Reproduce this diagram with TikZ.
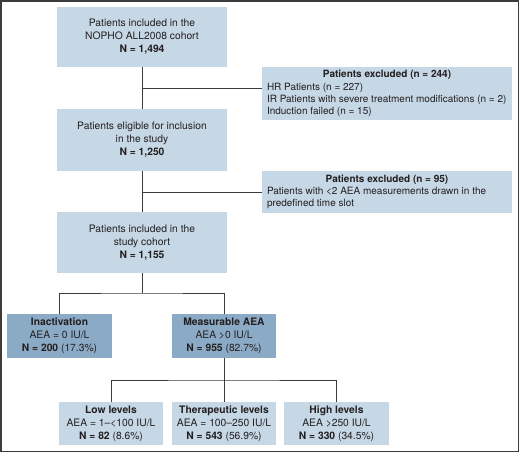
\documentclass[tikz,border=0pt]{standalone}
\usepackage{fontspec}
\setmainfont{TeX Gyre Heros}
\definecolor{lightbox}{RGB}{198,215,229}
\definecolor{darkbox}{RGB}{139,170,197}
\definecolor{txt}{RGB}{35,31,32}
\definecolor{linec}{RGB}{60,60,60}
\begin{document}
\begin{tikzpicture}[x=1pt,y=-1pt,
  every node/.style={font=\fontsize{10.3}{13}\selectfont, text=txt},
  lbox/.style={fill=lightbox, draw=none, align=center, inner sep=0pt},
  dbox/.style={fill=darkbox, draw=none, align=center, inner sep=0pt},
  exbox/.style={lbox, font=\fontsize{10}{12.2}\selectfont},
  conn/.style={draw=linec, line width=0.9pt}]
\useasboundingbox (0,0) rectangle (520,453);
\draw[draw=linec, line width=1.5pt] (1,1) rectangle (518.5,451.5);

\node[lbox, minimum width=170pt, minimum height=60pt] (b1) at (142,37)
  {Patients included in the\\NOPHO ALL2008 cohort\\\textbf{N = 1,494}};
\node[lbox, minimum width=170pt, minimum height=62pt] (b2) at (142,140)
  {Patients eligible for inclusion\\in the study\\\textbf{N = 1,250}};
\node[lbox, minimum width=170pt, minimum height=61pt] (b3) at (142,242.5)
  {Patients included in the\\study cohort\\\textbf{N = 1,155}};

\node[exbox, minimum width=250pt, minimum height=53pt] (e1) at (387,93.5)
  {\parbox{240pt}{\centering\textbf{Patients excluded (n = 244)}\par\raggedright
  HR Patients (n = 227)\\IR Patients with severe treatment modifications (n = 2)\\Induction failed (n = 15)}};
\node[exbox, minimum width=250pt, minimum height=42pt] (e2) at (387,192)
  {\parbox{240pt}{\centering\textbf{Patients excluded (n = 95)}\par\raggedright
  Patients with <2 AEA measurements drawn in the\\predefined time slot}};

\node[dbox, minimum width=105pt, minimum height=44pt] (inact) at (59.5,336)
  {\textbf{Inactivation}\\AEA = 0 IU/L\\\textbf{N = 200} (17.3\%)};
\node[dbox, minimum width=104pt, minimum height=44pt] (meas) at (224,336)
  {\textbf{Measurable AEA}\\AEA >0 IU/L\\\textbf{N = 955} (82.7\%)};

\node[lbox, minimum width=104pt, minimum height=43pt] (low) at (111,423.5)
  {\textbf{Low levels}\\AEA = 1\textendash<100 IU/L\\\textbf{N = 82} (8.6\%)};
\node[lbox, minimum width=104pt, minimum height=43pt] (ther) at (224,423.5)
  {\textbf{Therapeutic levels}\\AEA = 100\textendash250 IU/L\\\textbf{N = 543} (56.9\%)};
\node[lbox, minimum width=105pt, minimum height=43pt] (high) at (336.5,423.5)
  {\textbf{High levels}\\AEA >250 IU/L\\\textbf{N = 330} (34.5\%)};

\coordinate (j1) at (142,88);
\coordinate (j2) at (142,192);
\coordinate (s1) at (142,293);
\coordinate (s2) at (224,380);

\draw[conn] (b1) -- (b2);
\draw[conn] (j1) -- (j1 -| e1.west);
\draw[conn] (b2) -- (b3);
\draw[conn] (j2) -- (e2.west);
\draw[conn] (b3) -- (s1);
\draw[conn] (inact.north) |- (s1) -| (meas.north);
\draw[conn] (meas) -- (ther);
\draw[conn] (low.north) |- (s2) -| (high.north);
\end{tikzpicture}
\end{document}
